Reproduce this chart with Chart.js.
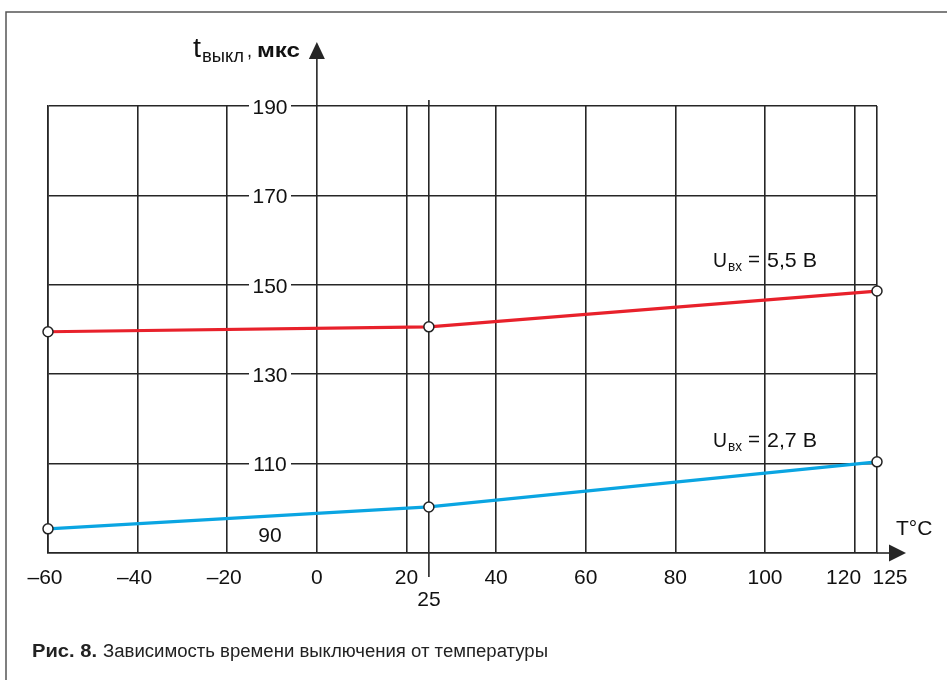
<!DOCTYPE html>
<html>
<head>
<meta charset="utf-8">
<script src="https://cdn.jsdelivr.net/npm/chart.js@4"></script>
<style>
  html, body { margin: 0; padding: 0; background: #fff; }
  #wrap { width: 947px; height: 680px; position: relative; }
</style>
</head>
<body>
<div id="wrap"><canvas id="chart"></canvas></div>
<script>
// Data
const temps = [-60, 25, 125];              // T, °C
const tOff55 = [139.5, 140.6, 148.6];      // Uвх = 5,5 В, мкс
const tOff27 = [95.4, 100.3, 110.4];       // Uвх = 2,7 В, мкс
const xTickValues = [-60, -40, -20, 0, 20, 25, 40, 60, 80, 100, 120, 125];
const xTickLabels = ['–60', '–40', '–20', '0', '20', '25', '40', '60', '80', '100', '120', '125'];
const yTickValues = [90, 110, 130, 150, 170, 190];

const GRID = '#262626';
const FONT = "'Liberation Sans', Arial, sans-serif";

// draw text squeezed/stretched to a given width
function fitText(ctx, text, x, y, w, font) {
    ctx.save();
    ctx.font = font;
    const m = ctx.measureText(text).width;
    ctx.translate(x, y);
    ctx.scale(w / m, 1);
    ctx.fillText(text, 0, 0);
    ctx.restore();
}

const axisDecor = {
    id: 'axisDecor',
    beforeDatasetsDraw(chart) {
        const { ctx, scales: { y } } = chart;
        ctx.save();
        ctx.fillStyle = '#111';
        ctx.font = '21px ' + FONT;
        ctx.textAlign = 'center';
        ctx.textBaseline = 'middle';
        // y tick labels sit in gaps of the horizontal grid lines
        const labX = 270;
        yTickValues.forEach(v => {
            const py = y.getPixelForValue(v);
            if (v === y.min) {
                ctx.fillText(String(v), labX, py - 17);
                return;
            }
            ctx.fillStyle = '#fff';
            ctx.fillRect(labX - 21, py - 3, 42, 6);
            ctx.fillStyle = '#111';
            ctx.fillText(String(v), labX, py + 2);
        });
        ctx.restore();
    },
    afterDraw(chart) {
        const { ctx, scales: { x }, chartArea } = chart;
        ctx.save();

        // outer frame (cut by the page edge at right and bottom)
        ctx.strokeStyle = '#555';
        ctx.lineWidth = 1.5;
        ctx.beginPath();
        ctx.moveTo(6, 680);
        ctx.lineTo(6, 12);
        ctx.lineTo(947, 12);
        ctx.stroke();

        ctx.strokeStyle = GRID;
        ctx.fillStyle = GRID;
        ctx.lineWidth = 1.6;

        // y axis arrow at T = 0
        const x0 = x.getPixelForValue(0);
        ctx.beginPath();
        ctx.moveTo(x0, chartArea.top);
        ctx.lineTo(x0, 58);
        ctx.stroke();
        ctx.beginPath();
        ctx.moveTo(x0, 42);
        ctx.lineTo(x0 - 8, 59);
        ctx.lineTo(x0 + 8, 59);
        ctx.closePath();
        ctx.fill();

        // x axis arrow
        const yb = chartArea.bottom;
        ctx.beginPath();
        ctx.moveTo(chartArea.right, yb);
        ctx.lineTo(892, yb);
        ctx.stroke();
        ctx.beginPath();
        ctx.moveTo(906, yb);
        ctx.lineTo(889, yb - 8.5);
        ctx.lineTo(889, yb + 8.5);
        ctx.closePath();
        ctx.fill();

        // the 25 °C line runs past the grid
        const x25 = x.getPixelForValue(25);
        ctx.beginPath();
        ctx.moveTo(x25, chartArea.top - 6);
        ctx.lineTo(x25, chartArea.top);
        ctx.moveTo(x25, yb);
        ctx.lineTo(x25, 577);
        ctx.stroke();

        // x tick labels
        ctx.fillStyle = '#111';
        ctx.font = '21px ' + FONT;
        ctx.textAlign = 'center';
        ctx.textBaseline = 'alphabetic';
        const shift = { 120: -11, 125: 13, '-60': -3, '-40': -3, '-20': -3 };
        xTickValues.forEach((v, i) => {
            const px = x.getPixelForValue(v) + (shift[v] || 0);
            const py = v === 25 ? 606 : 584;
            ctx.fillText(xTickLabels[i], px, py);
        });

        // axis titles
        ctx.textAlign = 'left';
        ctx.font = '21px ' + FONT;
        ctx.fillText('T°C', 896, 535);
        fitText(ctx, 't', 193, 57, 8, '27px ' + FONT);
        fitText(ctx, 'выкл', 202, 62, 42, '19px ' + FONT);
        fitText(ctx, ',', 247, 57, 5, '20px ' + FONT);
        fitText(ctx, 'мкс', 257, 57, 43, '600 20px ' + FONT);

        // series labels
        const seriesLabel = (val, base) => {
            fitText(ctx, 'U', 713, base, 14, '21px ' + FONT);
            fitText(ctx, 'вх', 728, base + 4, 14, '14px ' + FONT);
            fitText(ctx, '=', 748, base - 1, 12, '21px ' + FONT);
            fitText(ctx, val, 767, base, 50, '21px ' + FONT);
        };
        seriesLabel('5,5 В', 267);
        seriesLabel('2,7 В', 447);

        // caption
        ctx.fillStyle = '#222';
        fitText(ctx, 'Рис. 8.', 32, 657, 65, 'bold 18px ' + FONT);
        fitText(ctx, 'Зависимость времени выключения от температуры', 103, 657, 445, '18px ' + FONT);

        ctx.restore();
    }
};

const pointStyle = {
    pointRadius: 5,
    pointHoverRadius: 5,
    pointBackgroundColor: '#fff',
    pointBorderColor: '#222',
    pointBorderWidth: 1.5,
    borderWidth: 3.2,
    tension: 0,
    fill: false,
    clip: false
};

new Chart(document.getElementById('chart'), {
    type: 'line',
    data: {
        datasets: [
            {
                label: 'Uвх = 5,5 В',
                data: temps.map((t, i) => ({ x: t, y: tOff55[i] })),
                borderColor: '#e8212b',
                ...pointStyle
            },
            {
                label: 'Uвх = 2,7 В',
                data: temps.map((t, i) => ({ x: t, y: tOff27[i] })),
                borderColor: '#0aa5e2',
                ...pointStyle
            }
        ]
    },
    options: {
        responsive: true,
        maintainAspectRatio: false,
        animation: false,
        layout: { padding: { left: 48, right: 70, top: 106, bottom: 127 } },
        plugins: {
            legend: { display: false },
            tooltip: { enabled: false }
        },
        scales: {
            x: {
                type: 'linear',
                min: -60,
                max: 125,
                afterBuildTicks: axis => { axis.ticks = xTickValues.map(v => ({ value: v })); },
                ticks: { display: false },
                grid: { color: GRID, lineWidth: 1.6, drawTicks: false },
                border: { color: GRID, width: 1.6 }
            },
            y: {
                type: 'linear',
                min: 90,
                max: 190,
                afterBuildTicks: axis => { axis.ticks = yTickValues.map(v => ({ value: v })); },
                ticks: { display: false },
                grid: { color: GRID, lineWidth: 1.6, drawTicks: false },
                border: { color: GRID, width: 1.6 }
            }
        }
    },
    plugins: [axisDecor]
});
</script>
</body>
</html>
